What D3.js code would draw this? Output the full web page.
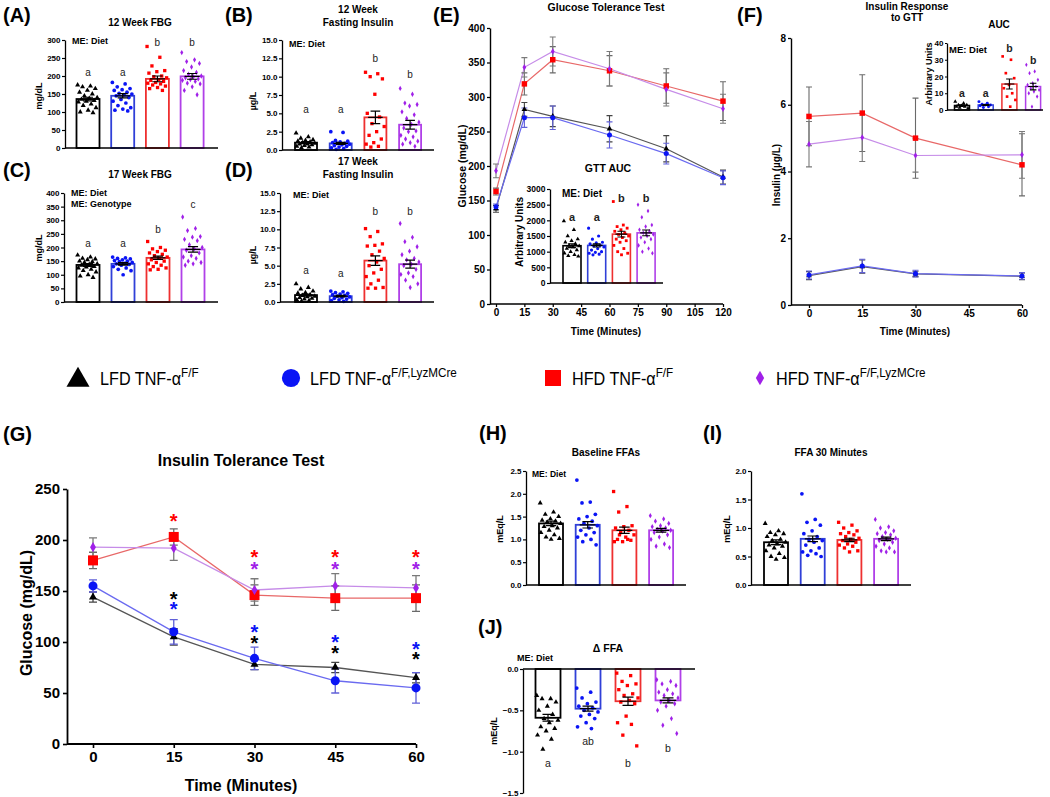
<!DOCTYPE html>
<html><head><meta charset="utf-8">
<script src="https://cdn.jsdelivr.net/npm/d3@7"></script>
<style>
body{margin:0;background:#fff;}
svg{display:block;font-family:'Liberation Sans',Arial,sans-serif;}
</style></head><body>
<svg id="c" width="1050" height="797"></svg>
<script>
// ================= DATA =================
const legendMain = ["LFD TNF-α","LFD TNF-α","HFD TNF-α","HFD TNF-α"];
const legendSup = ["F/F","F/F,LyzMCre","F/F","F/F,LyzMCre"];

// (A) 12 Week FBG (mg/dL)
const fbg12Pts = [
 [175,172,170,165,160,155,150,145,140,138,135,132,130,128,122,118,112,105,100,98],
 [182,178,170,165,162,160,155,152,150,148,145,140,135,130,125,118,112,108,105,103],
 [282,252,228,215,212,208,200,198,195,190,188,185,182,180,178,175,172,168,165,160],
 [265,245,240,235,225,215,210,205,200,198,195,192,190,188,185,180,178,170,160,148]];
const fbg12Mean = [136,145,192,199];
const fbg12Sem = [5,6,8,8];
const fbg12Letters = ["a","a","b","b"];
const fbg12Ticks = [0,50,100,150,200,250,300];

// (B) 12 Week Fasting Insulin (µg/L)
const ins12Pts = [
 [2.3,1.8,1.6,1.4,1.3,1.2,1.1,1.0,0.9,0.8,0.8,0.7,0.6,0.5,0.4,0.3],
 [2.5,2.4,1.3,1.2,1.1,1.0,0.9,0.9,0.8,0.7,0.6,0.5,0.4,0.3,0.2,0.1],
 [10.6,10.4,10.0,9.7,7.6,5.0,4.5,3.6,3.2,2.5,2.0,1.5,1.0,0.8,0.5,0.4],
 [8.4,7.6,6.4,6.2,6.0,5.2,4.8,4.3,3.8,3.5,3.0,2.6,2.5,2.0,1.8,1.5,1.2,1.0,0.8,0.5]];
const ins12Mean = [1.0,0.9,4.45,3.45];
const ins12Sem = [0.15,0.15,0.85,0.6];
const ins12Letters = ["a","a","b","b"];
const insTicks = [0,2.5,5,7.5,10,12.5,15];

// (C) 17 Week FBG (mg/dL)
const fbg17Pts = [
 [172,165,160,158,155,150,148,145,140,138,135,130,128,125,120,115,110,100,95,90],
 [165,162,160,158,155,152,150,148,145,142,140,138,135,130,125,120,115,100],
 [222,200,195,190,185,180,175,170,165,160,155,150,145,140,135,130,125,120,118],
 [312,270,262,240,238,230,225,210,200,195,190,180,170,165,160,150,145,140,135]];
const fbg17Mean = [136,140,162,193];
const fbg17Sem = [5,5,6,10];
const fbg17Letters = ["a","a","b","c"];
const fbg17Ticks = [0,50,100,150,200,250,300,350,400];

// (D) 17 Week Fasting Insulin (µg/L)
const ins17Pts = [
 [2.5,2.0,1.8,1.5,1.3,1.2,1.0,0.9,0.8,0.7,0.6,0.5,0.4,0.3,0.2,0.1],
 [1.5,1.4,1.3,1.2,1.1,1.0,0.9,0.8,0.7,0.6,0.5,0.4,0.3,0.2,0.1],
 [10.1,9.7,9.0,8.0,7.8,7.7,7.0,6.5,6.0,5.5,5.0,4.5,4.0,3.5,3.0,2.5,2.0,1.9,1.9],
 [10.8,8.9,8.3,7.6,7.0,6.5,6.0,5.8,5.5,5.2,5.0,4.5,4.0,3.8,3.5,3.0,2.5,2.0]];
const ins17Mean = [0.95,0.8,5.7,5.2];
const ins17Sem = [0.15,0.1,0.65,0.55];
const ins17Letters = ["a","a","b","b"];

// (E) Glucose Tolerance Test (mg/dL)
const gttTimes = [0,15,30,60,90,120];
const gttMean = [[138,282,272,254,225,184],[141,270,270,245,218,183],[163,319,354,338,316,294],[193,343,366,341,311,283]];
const gttSem = [[5,10,15,19,19,10],[4,14,17,19,15,10],[5,16,19,22,25,28],[10,14,21,25,24,21]];
const gttXTicks = [0,15,30,45,60,75,90,105,120];
const gttYTicks = [0,50,100,150,200,250,300,350,400];
// GTT AUC inset
const gttAucPts = [
 [1980,1700,1500,1400,1350,1300,1250,1200,1180,1150,1100,1050,1000,950,900,870,850],
 [1750,1500,1400,1300,1280,1250,1200,1180,1150,1100,1050,1000,980,950,920,900],
 [2600,1850,1800,1750,1700,1650,1600,1550,1500,1450,1400,1350,1300,1200,1100,1000,950,900],
 [2500,2300,2100,1850,1800,1700,1650,1600,1550,1500,1450,1400,1300,1200,1100,1000,950]];
const gttAucMean = [1190,1200,1560,1600];
const gttAucSem = [60,50,90,90];
const gttAucLetters = ["a","a","b","b"];
const gttAucTicks = [0,500,1000,1500,2000,2500,3000];

// (F) Insulin response to GTT (µg/L)
const irTimes = [0,15,30,60];
const irMean = [[0.88,1.15,0.93,0.86],[0.9,1.17,0.94,0.87],[5.65,5.75,5.0,4.2],[4.82,5.02,4.48,4.5]];
const irSem = [[0.12,0.2,0.08,0.1],[0.12,0.2,0.1,0.1],[0.88,1.15,1.2,0.93],[0.68,0.72,0.5,0.7]];
const irXTicks = [0,15,30,45,60];
const irYTicks = [0,2,4,6,8];
// AUC inset
const irAucPts = [
 [5,4,3,3,2.5,2,2,1.5,1],
 [5,4,3.5,3,3,2.5,2,1.5],
 [32,30,22,19,15,13,10,8,6,2],
 [27,23,22,18,16,15,14,13,12,11,10,8,2]];
const irAucMean = [2.7,3,15.5,14];
const irAucSem = [0.4,0.3,3,2];
const irAucLetters = ["a","a","b","b"];
const irAucTicks = [0,10,20,30,40];

// (G) Insulin Tolerance Test (mg/dL)
const ittTimes = [0,15,30,45,60];
const ittMean = [[144,105,78,75,65],[155,110,84,62,55],[180,203,146,143,143],[193,192,151,155,153]];
const ittSem = [[5,8,5,5,5],[6,12,11,12,15],[8,8,10,12,13],[9,12,11,12,12]];
const ittXTicks = [0,15,30,45,60];
const ittYTicks = [0,50,100,150,200,250];
const ittStarTime  = [15,15,15,30,30,30,30,45,45,45,45,60,60,60,60];
const ittStarGroup = [2,0,1,2,3,1,0,2,3,1,0,2,3,1,0];
const ittStarValue = [222,145,135,186,175,113,102,186,175,103,92,186,175,96,86];

// (H) Baseline FFAs (mEq/L)
const ffa0Pts = [
 [1.8,1.6,1.55,1.5,1.45,1.42,1.4,1.38,1.35,1.3,1.28,1.25,1.2,1.15,1.1,1.05,1.02,1.0],
 [2.3,1.82,1.8,1.55,1.5,1.45,1.4,1.35,1.3,1.25,1.2,1.15,1.1,1.05,1.0,0.95,0.88],
 [2.05,1.72,1.6,1.3,1.28,1.25,1.2,1.15,1.1,1.05,1.0,0.98,0.95,0.95,1.0,1.1],
 [1.52,1.45,1.4,1.35,1.3,1.28,1.25,1.22,1.2,1.18,1.15,1.1,1.05,1.0,0.9,0.85,0.82]];
const ffa0Mean = [1.35,1.32,1.2,1.2];
const ffa0Sem = [0.05,0.07,0.07,0.04];
const ffa0Ticks = [0,0.5,1.0,1.5,2.0,2.5];

// (I) FFA 30 Minutes (mEq/L)
const ffa30Pts = [
 [1.08,0.95,0.92,0.9,0.88,0.85,0.8,0.78,0.75,0.72,0.7,0.68,0.65,0.6,0.55,0.5,0.48,0.45],
 [1.6,1.15,1.1,1.05,0.95,0.9,0.85,0.8,0.78,0.75,0.7,0.65,0.6,0.58,0.55,0.52,0.5],
 [1.1,1.05,1.0,0.95,0.92,0.9,0.88,0.85,0.82,0.8,0.78,0.75,0.72,0.7,0.68,0.65,0.6,0.58],
 [1.15,1.02,1.0,0.95,0.92,0.9,0.88,0.85,0.82,0.8,0.78,0.75,0.72,0.68,0.65,0.6,0.58,0.58]];
const ffa30Mean = [0.75,0.81,0.79,0.81];
const ffa30Sem = [0.04,0.05,0.03,0.03];
const ffa30Ticks = [0,0.5,1.0,1.5,2.0];

// (J) Δ FFA (mEq/L)
const dffaPts = [
 [-0.32,-0.36,-0.36,-0.4,-0.45,-0.5,-0.55,-0.6,-0.62,-0.65,-0.7,-0.72,-0.75,-0.8,-0.85,-0.97],
 [-0.23,-0.28,-0.35,-0.4,-0.42,-0.45,-0.47,-0.5,-0.52,-0.55,-0.57,-0.6,-0.65,-0.7,-0.72],
 [-0.05,-0.08,-0.15,-0.18,-0.2,-0.25,-0.3,-0.32,-0.35,-0.38,-0.4,-0.42,-0.57,-0.65,-0.67,-0.8,-0.93],
 [-0.13,-0.15,-0.18,-0.2,-0.25,-0.28,-0.3,-0.32,-0.35,-0.38,-0.4,-0.42,-0.45,-0.5,-0.6,-0.68,-0.78]];
const dffaMean = [-0.59,-0.48,-0.39,-0.38];
const dffaSem = [0.04,0.03,0.05,0.03];
const dffaLetters = ["a","ab","b","b"];
const dffaTicks = [0,-0.5,-1.0,-1.5];

// ================= STYLE =================
const PT   = ['#000000','#0a14f5','#ff0000','#a020e8'];
const BAR  = ['#000000','#3040d8','#ee3030','#b040e8'];
const LINE = ['#555555','#6a6af0','#e86868','#c68ce8'];
const ERR  = ['#444444','#6060d8','#6a6a6a','#7a7a7a'];
const SYMS = [d3.symbolTriangle, d3.symbolCircle, d3.symbolSquare, d3.symbolDiamond];
const FONT = "'Liberation Sans', Arial, sans-serif";

const svg = d3.select('#c');

function txt(x, y, s, fs, o = {}) {
  const t = svg.append('text').attr('x', x).attr('y', y).text(s)
    .attr('font-size', fs).attr('font-weight', o.w || 'bold')
    .attr('text-anchor', o.a || 'middle').attr('fill', o.c || '#000')
    .attr('font-family', o.f || FONT);
  if (o.rot) t.attr('transform', `rotate(-90,${x},${y})`);
  return t;
}
function styleAxis(sel, fs, aw) {
  sel.attr('font-size', fs).attr('font-family', FONT).attr('font-weight', 'bold');
  sel.select('.domain').attr('stroke', '#000').attr('stroke-width', aw);
  sel.selectAll('.tick line').attr('stroke', '#000').attr('stroke-width', aw * 0.9);
  sel.selectAll('.tick text').attr('fill', '#000');
}

// ---------- bar + scatter panel ----------
function drawBars(cfg, pts, mean, sem, ticks, letters) {
  const g = svg.append('g');
  const y = d3.scaleLinear().domain(cfg.domain).range([cfg.yMin, cfg.yMax]);
  const pad = 1 - cfg.bw / cfg.step;
  const x = d3.scaleBand().domain(d3.range(mean.length))
    .range([cfg.c0 - cfg.step / 2, cfg.c0 + (mean.length - 0.5) * cfg.step])
    .paddingInner(pad).paddingOuter(pad / 2);
  const y0 = y(0);
  g.selectAll('rect').data(mean).join('rect')
    .attr('x', (d, i) => x(i)).attr('width', x.bandwidth())
    .attr('y', d => Math.min(y(d), y0)).attr('height', d => Math.abs(y(d) - y0))
    .attr('fill', 'none').attr('stroke', (d, i) => BAR[i]).attr('stroke-width', cfg.sw);
  pts.forEach((arr, gi) => {
    const cx = x(gi) + x.bandwidth() / 2;
    g.append('g').selectAll('path').data(arr).join('path')
      .attr('d', d3.symbol(SYMS[gi], cfg.ms * (gi === 3 ? 0.75 : 1))())
      .attr('transform', (d, i) => `translate(${cx + (((i * 0.618034) % 1) - 0.5) * cfg.bw * 0.9},${y(d)})`)
      .attr('fill', PT[gi]);
  });
  mean.forEach((m, i) => {
    const cx = x(i) + x.bandwidth() / 2, cw = x.bandwidth() * 0.22;
    const yt = y(m + sem[i]), yb = y(m - sem[i]), ym = y(m);
    g.append('path')
      .attr('d', `M${cx},${yt}V${yb}M${cx - cw},${yt}H${cx + cw}M${cx - cw},${yb}H${cx + cw}M${cx - cw * 1.5},${ym}H${cx + cw * 1.5}`)
      .attr('stroke', '#000').attr('stroke-width', cfg.ew).attr('fill', 'none');
  });
  const ya = g.append('g').attr('transform', `translate(${cfg.ax},0)`)
    .call(d3.axisLeft(y).tickValues(ticks).tickFormat(cfg.fmt).tickSize(cfg.tl).tickSizeOuter(0).tickPadding(1.5));
  styleAxis(ya, cfg.fs, cfg.aw);
  g.append('line').attr('x1', cfg.ax).attr('x2', cfg.axEnd).attr('y1', y0).attr('y2', y0)
    .attr('stroke', '#000').attr('stroke-width', cfg.aw);
  if (letters) {
    letters.forEach((l, i) => {
      g.append('text').attr('x', x(i) + x.bandwidth() / 2).attr('y', y(cfg.letterAt[i]))
        .text(l).attr('text-anchor', 'middle').attr('font-size', cfg.lfs)
        .attr('font-weight', cfg.lw || 'normal').attr('font-family', FONT).attr('fill', '#222');
    });
  }
  return { x, y };
}

// ---------- line panel ----------
function drawLines(cfg, times, means, sems, xticks, yticks) {
  const g = svg.append('g');
  const x = d3.scaleLinear().domain(cfg.xdom).range(cfg.xr);
  const y = d3.scaleLinear().domain(cfg.ydom).range([cfg.yMin, cfg.yMax]);
  const line = d3.line().x((d, i) => x(times[i])).y(d => y(d));
  means.forEach((ser, gi) => {
    g.append('path').attr('d', line(ser)).attr('fill', 'none')
      .attr('stroke', LINE[gi]).attr('stroke-width', cfg.lw);
  });
  means.forEach((ser, gi) => {
    ser.forEach((m, i) => {
      const cx = x(times[i]), yt = y(m + sems[gi][i]), yb = y(m - sems[gi][i]), cw = cfg.cap;
      g.append('path').attr('d', `M${cx},${yt}V${yb}M${cx - cw},${yt}H${cx + cw}M${cx - cw},${yb}H${cx + cw}`)
        .attr('stroke', ERR[gi]).attr('stroke-width', cfg.ew).attr('fill', 'none');
    });
  });
  means.forEach((ser, gi) => {
    g.append('g').selectAll('path').data(ser).join('path')
      .attr('d', d3.symbol(SYMS[gi], cfg.ms[gi])())
      .attr('transform', (d, i) => `translate(${x(times[i])},${y(d)})`)
      .attr('fill', PT[gi]);
  });
  const ya = g.append('g').attr('transform', `translate(${cfg.ax},0)`)
    .call(d3.axisLeft(y).tickValues(yticks).tickSize(cfg.tl).tickSizeOuter(0).tickPadding(cfg.tp));
  styleAxis(ya, cfg.fs, cfg.aw);
  const xa = g.append('g').attr('transform', `translate(0,${cfg.yMin})`)
    .call(d3.axisBottom(x).tickValues(xticks).tickSize(cfg.tl).tickSizeOuter(0).tickPadding(cfg.tp));
  styleAxis(xa, cfg.fs, cfg.aw);
  xa.select('.domain').remove();
  g.append('line').attr('x1', cfg.ax).attr('x2', cfg.xr[1]).attr('y1', cfg.yMin).attr('y2', cfg.yMin)
    .attr('stroke', '#000').attr('stroke-width', cfg.aw);
  return { x, y };
}

// ================= PANELS =================
const f1 = d3.format('.1f');
const fd = d3.format('d');

// (A)
drawBars({ax:65, axEnd:218, yMin:148, yMax:40, domain:[0,300], fmt:fd, c0:88, step:34.7, bw:23,
  fs:8, tl:3, aw:1.3, sw:1.8, ew:1.2, ms:11, lfs:10, letterAt:[200,200,283,283]},
  fbg12Pts, fbg12Mean, fbg12Sem, fbg12Ticks, fbg12Letters);
txt(3, 22, '(A)', 20, {a:'start'});
txt(140, 26, '12 Week FBG', 10);
txt(72, 44, 'ME: Diet', 9, {a:'start'});
txt(42, 96, 'mg/dL', 9, {rot:true});

// (B)
drawBars({ax:282, axEnd:434, yMin:150, yMax:40, domain:[0,15], fmt:f1, c0:306, step:34.7, bw:22,
  fs:8, tl:3, aw:1.3, sw:1.8, ew:1.2, ms:11, lfs:10, letterAt:[5.0,5.0,12.0,9.8]},
  ins12Pts, ins12Mean, ins12Sem, insTicks, ins12Letters);
txt(225, 22, '(B)', 20, {a:'start'});
txt(358, 13, '12 Week', 10);
txt(358, 26, 'Fasting Insulin', 10);
txt(289, 47, 'ME: Diet', 9, {a:'start'});
txt(256, 101, 'µg/L', 9, {rot:true});

// (C)
drawBars({ax:64, axEnd:218, yMin:302, yMax:193, domain:[0,400], fmt:fd, c0:88, step:35, bw:23,
  fs:8, tl:3, aw:1.3, sw:1.8, ew:1.2, ms:11, lfs:10, letterAt:[202,202,253,345]},
  fbg17Pts, fbg17Mean, fbg17Sem, fbg17Ticks, fbg17Letters);
txt(3, 177, '(C)', 20, {a:'start'});
txt(140, 178, '17 Week FBG', 10);
txt(71, 196, 'ME: Diet', 9, {a:'start'});
txt(71, 207, 'ME: Genotype', 9, {a:'start'});
txt(42, 248, 'mg/dL', 9, {rot:true});

// (D)
drawBars({ax:280, axEnd:434, yMin:302, yMax:193, domain:[0,15], fmt:f1, c0:306, step:34.7, bw:22,
  fs:8, tl:3, aw:1.3, sw:1.8, ew:1.2, ms:11, lfs:10, letterAt:[3.85,3.4,12.0,12.0]},
  ins17Pts, ins17Mean, ins17Sem, insTicks, ins17Letters);
txt(225, 177, '(D)', 20, {a:'start'});
txt(358, 165, '17 Week', 10);
txt(358, 178, 'Fasting Insulin', 10);
txt(293, 198, 'ME: Diet', 9, {a:'start'});
txt(256, 255, 'µg/L', 9, {rot:true});

// (E)
drawLines({ax:490, xr:[496,723], xdom:[0,120], yMin:304, yMax:28, ydom:[0,400],
  fs:10, tl:3, tp:2, aw:1.4, lw:1.2, ew:1.1, cap:3, ms:[14,20,30,12]},
  gttTimes, gttMean, gttSem, gttXTicks, gttYTicks);
txt(433, 22, '(E)', 20, {a:'start'});
txt(606, 11, 'Glucose Tolerance Test', 10.5);
txt(606, 335, 'Time (Minutes)', 10);
txt(466, 166, 'Glucose (mg/dL)', 10.5, {rot:true});
drawBars({ax:550, axEnd:663, yMin:283, yMax:189, domain:[0,3000], fmt:fd, c0:572, step:24.7, bw:18,
  fs:8.5, tl:3, aw:1.3, sw:1.6, ew:1.1, ms:8, lfs:11, lw:'bold', letterAt:[1979,1979,2585,2585]},
  gttAucPts, gttAucMean, gttAucSem, gttAucTicks, gttAucLetters);
txt(608, 172, 'GTT AUC', 10.5);
txt(562, 197, 'ME: Diet', 10, {a:'start'});
txt(523, 232, 'Arbitrary Units', 10, {rot:true});

// (F)
drawLines({ax:791, xr:[809,1022], xdom:[0,60], yMin:305, yMax:38, ydom:[0,8],
  fs:10, tl:3, tp:2, aw:1.4, lw:1.2, ew:1.1, cap:3, ms:[14,20,30,12]},
  irTimes, irMean, irSem, irXTicks, irYTicks);
txt(737, 22, '(F)', 20, {a:'start'});
txt(907, 10, 'Insulin Response', 10);
txt(907, 21, 'to GTT', 10);
txt(915, 335, 'Time (Minutes)', 10);
txt(780, 175, 'Insulin (µg/L)', 10, {rot:true});
drawBars({ax:947, axEnd:1043, yMin:110, yMax:43, domain:[0,40], fmt:fd, c0:962, step:23.7, bw:15,
  fs:8, tl:2, aw:1.3, sw:1.5, ew:1.1, ms:7, lfs:10.5, lw:'bold', letterAt:[7.8,7.8,34.6,27.5]},
  irAucPts, irAucMean, irAucSem, irAucTicks, irAucLetters);
txt(999, 28, 'AUC', 10);
txt(949, 53, 'ME: Diet', 9.5, {a:'start'});
txt(932, 74, 'Arbitrary Units', 9, {rot:true});

// Legend
legendMain.forEach((s, i) => {
  const sx = [78, 291, 553, 760][i], tx = [100, 310, 572, 776][i];
  svg.append('path').attr('d', d3.symbol(SYMS[i], [230, 260, 256, 60][i])())
    .attr('transform', `translate(${sx},${i === 0 ? 380 : 378})`).attr('fill', PT[i]);
  const t = svg.append('text').attr('transform', `translate(${tx},385) scale(0.9,1)`)
    .attr('font-family', "'Liberation Sans Narrow','Arial Narrow','Liberation Sans',sans-serif")
    .attr('font-size', 18).attr('fill', '#000');
  t.append('tspan').text(s);
  t.append('tspan').attr('dy', -8).attr('font-size', 13).text(legendSup[i]);
});

// (G)
const G = drawLines({ax:67, xr:[93,416], xdom:[0,60], yMin:744, yMax:489, ydom:[0,250],
  fs:15, tl:4, tp:3, aw:1.8, lw:1.3, ew:1.3, cap:4, ms:[28,64,100,30]},
  ittTimes, ittMean, ittSem, ittXTicks, ittYTicks);
txt(3, 441, '(G)', 20, {a:'start'});
txt(241, 466, 'Insulin Tolerance Test', 16);
txt(241, 791, 'Time (Minutes)', 16);
txt(32, 613, 'Glucose (mg/dL)', 16, {rot:true});
ittStarTime.forEach((t, i) => {
  svg.append('text').attr('x', G.x(t)).attr('y', G.y(ittStarValue[i]) + 10)
    .text('*').attr('text-anchor', 'middle').attr('font-size', 20).attr('font-weight', 'bold')
    .attr('font-family', FONT).attr('fill', PT[ittStarGroup[i]]);
});

// (H)
drawBars({ax:526, axEnd:686, yMin:585, yMax:471, domain:[0,2.5], fmt:f1, c0:551, step:36.7, bw:24,
  fs:8, tl:3, aw:1.3, sw:1.8, ew:1.2, ms:11},
  ffa0Pts, ffa0Mean, ffa0Sem, ffa0Ticks, null);
txt(479, 440, '(H)', 20, {a:'start'});
txt(606, 456, 'Baseline FFAs', 10);
txt(532, 477, 'ME: Diet', 8.5, {a:'start'});
txt(503, 529, 'mEq/L', 9, {rot:true});

// (I)
drawBars({ax:751, axEnd:911, yMin:585, yMax:471, domain:[0,2.0], fmt:f1, c0:776, step:36.7, bw:24,
  fs:8, tl:3, aw:1.3, sw:1.8, ew:1.2, ms:11},
  ffa30Pts, ffa30Mean, ffa30Sem, ffa30Ticks, null);
txt(703, 440, '(I)', 20, {a:'start'});
txt(831, 456, 'FFA 30 Minutes', 10);
txt(730, 529, 'mEq/L', 9, {rot:true});

// (J)
drawBars({ax:523, axEnd:695, yMin:793, yMax:669, domain:[-1.5,0], fmt:f1, c0:548, step:40, bw:25,
  fs:8, tl:3, aw:1.3, sw:1.8, ew:1.2, ms:11, lfs:10.5, letterAt:[-1.185,-0.92,-1.185,-1.0]},
  dffaPts, dffaMean, dffaSem, dffaTicks, dffaLetters);
txt(478, 634, '(J)', 20, {a:'start'});
txt(608, 652, 'Δ FFA', 10.5);
txt(517, 661, 'ME: Diet', 9, {a:'start'});
txt(497, 731, 'mEq/L', 9, {rot:true});
</script>
</body></html>
